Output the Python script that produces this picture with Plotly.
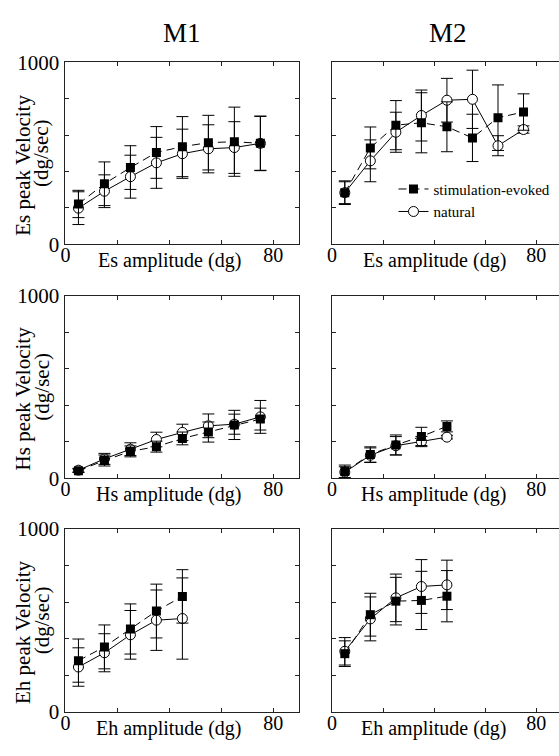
import plotly.graph_objects as go

# ---------------- data ----------------
# amplitudes (dg)
amp_es = [5, 15, 25, 35, 45, 55, 65, 75]
amp_hs_m1 = [5, 15, 25, 35, 45, 55, 65, 75]
amp_hs_m2 = [5, 15, 25, 35, 45]
amp_eh = [5, 15, 25, 35, 45]

# Es, M1
es_m1_stim = [222, 333, 422, 505, 537, 559, 564, 555]
es_m1_stim_err = [75, 120, 120, 142, 165, 150, 190, 150]
es_m1_nat = [199, 292, 372, 448, 498, 525, 532, 555]
es_m1_nat_err = [90, 90, 118, 140, 135, 132, 142, 148]

# Es, M2
es_m2_stim = [284, 530, 655, 668, 646, 585, 696, 727]
es_m2_stim_err = [65, 115, 135, 165, 137, 130, 180, 100]
es_m2_nat = [284, 459, 616, 708, 792, 797, 542, 631]
es_m2_nat_err = [60, 115, 110, 140, 120, 160, 55, 20]

# Hs, M1
hs_m1_stim = [41, 97, 147, 173, 218, 253, 292, 324]
hs_m1_stim_err = [10, 30, 30, 30, 35, 55, 80, 60]
hs_m1_nat = [44, 106, 159, 212, 251, 287, 296, 336]
hs_m1_nat_err = [10, 30, 35, 40, 45, 65, 55, 90]

# Hs, M2
hs_m2_stim = [37, 130, 182, 229, 284]
hs_m2_stim_err = [35, 42, 55, 50, 30]
hs_m2_nat = [33, 126, 178, 201, 225]
hs_m2_nat_err = [30, 40, 50, 28, 10]

# Eh, M1
eh_m1_stim = [281, 356, 454, 552, 632]
eh_m1_stim_err = [118, 120, 137, 147, 146]
eh_m1_nat = [246, 324, 422, 502, 511]
eh_m1_nat_err = [105, 104, 133, 165, 222]

# Eh, M2
eh_m2_stim = [319, 532, 606, 610, 633]
eh_m2_stim_err = [70, 117, 130, 159, 140]
eh_m2_nat = [332, 509, 624, 686, 695]
eh_m2_nat_err = [75, 120, 130, 147, 135]

x_ticks = [0, 20, 40, 60, 80]
x_ticktext = ["0", "", "", "", "80"]
y_ticks = [0, 200, 400, 600, 800, 1000]
y_ticktext_left = ["0", "", "", "", "", "1000"]
y_ticktext_right = ["", "", "", "", "", ""]

panel_titles = ["M1", "M2"]
row_names = ["Es", "Hs", "Eh"]
series_names = ["stimulation-evoked", "natural"]

# ---------------- layout geometry ----------------
W, H = 559, 756
FONT = "Liberation Serif"
rows_px = [(52, 240), (293, 481.5), (534, 723)]
left_px = (61, 297)
right_px = (330, 559)
right_range_max = 88.9

panels = [
    (amp_es, es_m1_stim, es_m1_stim_err, es_m1_nat, es_m1_nat_err),
    (amp_es, es_m2_stim, es_m2_stim_err, es_m2_nat, es_m2_nat_err),
    (amp_hs_m1, hs_m1_stim, hs_m1_stim_err, hs_m1_nat, hs_m1_nat_err),
    (amp_hs_m2, hs_m2_stim, hs_m2_stim_err, hs_m2_nat, hs_m2_nat_err),
    (amp_eh, eh_m1_stim, eh_m1_stim_err, eh_m1_nat, eh_m1_nat_err),
    (amp_eh, eh_m2_stim, eh_m2_stim_err, eh_m2_nat, eh_m2_nat_err),
]

fig = go.Figure()

for i, (xs, sy, se, ny, ne) in enumerate(panels):
    k = i + 1
    xa = "x" if k == 1 else f"x{k}"
    ya = "y" if k == 1 else f"y{k}"
    fig.add_trace(go.Scatter(
        x=xs, y=ny, xaxis=xa, yaxis=ya, mode="lines+markers",
        name=series_names[1], showlegend=(k == 1), legendgroup="nat",
        line=dict(color="black", width=1),
        marker=dict(symbol="circle", size=10, color="white",
                    line=dict(color="black", width=1)),
        error_y=dict(type="data", array=ne, color="black", thickness=1, width=6),
    ))
    fig.add_trace(go.Scatter(
        x=xs, y=sy, xaxis=xa, yaxis=ya, mode="lines+markers",
        name=series_names[0], showlegend=(k == 1), legendgroup="stim",
        line=dict(color="black", width=1, dash="8px,5px"),
        marker=dict(symbol="square", size=9, color="black",
                    line=dict(color="black", width=0)),
        error_y=dict(type="data", array=se, color="black", thickness=1, width=6),
    ))

layout = dict(
    width=W, height=H,
    margin=dict(l=0, r=0, t=0, b=0, pad=0),
    paper_bgcolor="white", plot_bgcolor="white",
    font=dict(family=FONT, color="black", size=20),
    showlegend=True,
    legend=dict(x=392 / W, y=1 - 166 / H, xanchor="left", yanchor="top",
                bgcolor="rgba(0,0,0,0)", borderwidth=0,
                traceorder="reversed", font=dict(family=FONT, size=15),
                tracegroupgap=0, itemwidth=30),
)

annotations = []
for r, (top, bot) in enumerate(rows_px):
    ydom = [1 - bot / H, 1 - top / H]
    for c in range(2):
        k = r * 2 + c + 1
        xkey = "xaxis" if k == 1 else f"xaxis{k}"
        ykey = "yaxis" if k == 1 else f"yaxis{k}"
        px = left_px if c == 0 else right_px
        xdom = [px[0] / W, px[1] / W]
        xr = [0, 90] if c == 0 else [0, right_range_max]
        layout[xkey] = dict(
            domain=xdom, range=xr, anchor=("y" if k == 1 else f"y{k}"),
            tickvals=x_ticks, ticktext=x_ticktext, ticks="inside", ticklen=4,
            tickcolor="#222", showline=True, linecolor="#222", linewidth=1,
            mirror="ticks", showgrid=False, zeroline=False,
            tickfont=dict(family=FONT, size=20), ticklabelstandoff=-7,
        )
        layout[ykey] = dict(
            domain=ydom, range=[0, 1000], anchor=("x" if k == 1 else f"x{k}"),
            tickvals=y_ticks,
            ticktext=(y_ticktext_left if c == 0 else y_ticktext_right),
            ticks="inside", ticklen=4, tickcolor="#222",
            showline=True, linecolor="#222", linewidth=1,
            mirror=("ticks" if c == 0 else False),
            showgrid=False, zeroline=False,
            tickfont=dict(family=FONT, size=21), ticklabelstandoff=1,
        )
        # x-axis title text
        annotations.append(dict(
            text=f"{row_names[r]} amplitude (dg)", xref=("x" if k == 1 else f"x{k}"),
            x=40, yref="paper", y=1 - (bot + 17) / H, showarrow=False,
            xanchor="center", yanchor="middle", font=dict(family=FONT, size=20),
        ))
    # y-axis titles (two lines)
    mid = (top + bot) / 2
    annotations.append(dict(
        text=f"{row_names[r]} peak Velocity", xref="paper", x=18 / W,
        yref="paper", y=1 - (mid + 12) / H, textangle=-90, showarrow=False,
        xanchor="center", yanchor="middle", font=dict(family=FONT, size=21),
    ))
    annotations.append(dict(
        text="(dg/sec)", xref="paper", x=37 / W,
        yref="paper", y=1 - mid / H, textangle=-90, showarrow=False,
        xanchor="center", yanchor="middle", font=dict(family=FONT, size=21),
    ))

# column titles
annotations.append(dict(text=panel_titles[0], xref="paper", x=179 / W, yref="paper",
                        y=1 - 22 / H, showarrow=False, xanchor="center", yanchor="middle",
                        font=dict(family=FONT, size=27)))
annotations.append(dict(text=panel_titles[1], xref="paper", x=447 / W, yref="paper",
                        y=1 - 22 / H, showarrow=False, xanchor="center", yanchor="middle",
                        font=dict(family=FONT, size=27)))
layout["annotations"] = annotations

# right-hand inside ticks for the right column (frame edge falls just outside the page)
for j, k in enumerate([2, 4, 6]):
    n = 7 + j
    layout[f"yaxis{n}"] = dict(
        overlaying=f"y{k}", anchor=f"x{k}", side="right", range=[0, 1000],
        tickvals=y_ticks[1:-1], ticktext=["", "", "", ""], ticks="inside", ticklen=4,
        tickcolor="#222", showline=False, showgrid=False, zeroline=False,
    )

fig.update_layout(**layout)
fig.write_html("out.html")
